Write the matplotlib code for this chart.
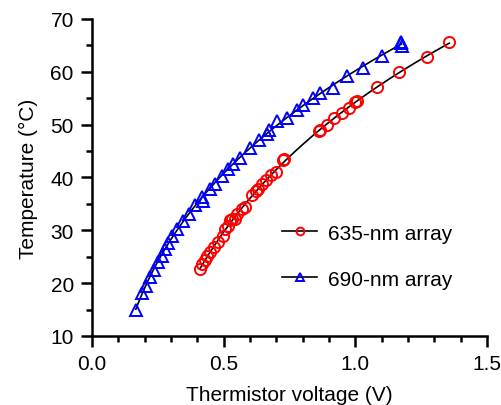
import numpy as np
import matplotlib
matplotlib.use("Agg")
import matplotlib.pyplot as plt
from matplotlib.ticker import MultipleLocator

plt.rcParams["font.family"] = ["Liberation Sans", "DejaVu Sans"]

# 635-nm array (red circles)
v_635 = [0.410, 0.420, 0.429, 0.438, 0.448, 0.463, 0.480, 0.496, 0.505, 0.518,
         0.524, 0.531, 0.543, 0.550, 0.569, 0.581, 0.607, 0.623, 0.632, 0.645,
         0.661, 0.682, 0.699, 0.727, 0.730, 0.863, 0.866, 0.891, 0.919, 0.948,
         0.976, 0.999, 1.005, 1.081, 1.167, 1.273, 1.357]
t_635 = [22.7, 23.7, 24.3, 25.1, 25.9, 26.8, 27.8, 28.9, 30.2, 30.8,
         31.9, 32.2, 32.2, 33.0, 34.0, 34.4, 36.6, 37.4, 37.9, 38.8,
         39.5, 40.4, 41.1, 43.3, 43.4, 48.8, 48.9, 50.0, 51.2, 52.1,
         53.2, 54.2, 54.5, 57.2, 60.0, 62.7, 65.6]

# 690-nm array (blue triangles)
v_690 = [0.167, 0.190, 0.205, 0.220, 0.235, 0.251, 0.266, 0.277, 0.289, 0.304,
         0.323, 0.346, 0.368, 0.391, 0.417, 0.422, 0.448, 0.467, 0.493, 0.518,
         0.537, 0.562, 0.600, 0.635, 0.666, 0.673, 0.704, 0.739, 0.777, 0.803,
         0.840, 0.866, 0.916, 0.967, 1.028, 1.100, 1.172, 1.176, 1.174]
t_690 = [14.9, 18.2, 19.5, 21.2, 22.5, 24.0, 25.2, 26.5, 27.6, 29.0,
         30.3, 31.8, 33.1, 34.7, 36.3, 35.5, 37.9, 38.7, 40.2, 41.6,
         42.6, 43.7, 45.6, 47.1, 48.3, 49.0, 50.6, 51.3, 52.8, 53.7,
         55.0, 55.9, 57.0, 59.1, 60.8, 63.0, 65.4, 64.8, 65.7]

labels = ["635-nm array", "690-nm array"]


# Smooth trend line through a series
def fit_line(v, t):
    coef = np.polyfit(np.log(v), t, 3)
    xs = np.linspace(min(v), max(v), 200)
    return xs, np.polyval(coef, np.log(xs))


fig = plt.figure(figsize=(5.02, 4.06), dpi=100)
ax = fig.add_axes([0.183, 0.170, 0.787, 0.781])

series = [(v_635, t_635, "o", "red"), (v_690, t_690, "^", "blue")]
for (v, t, m, c), lab in zip(series, labels):
    xs, ys = fit_line(v, t)
    ax.plot(xs, ys, color="black", lw=1.2, zorder=2)
    ax.plot(v, t, linestyle="none", marker=m, markersize=8, markerfacecolor="none",
            markeredgecolor=c, markeredgewidth=1.4, zorder=3)
    # legend proxy: black line with marker
    ax.plot([], [], color="black", lw=1.2, marker=m, markersize=8,
            markerfacecolor="none", markeredgecolor=c, markeredgewidth=1.4, label=lab)

ax.set_xlim(0, 1.5)
ax.set_ylim(10, 70)
ax.xaxis.set_major_locator(MultipleLocator(0.5))
ax.xaxis.set_minor_locator(MultipleLocator(0.1))
ax.yaxis.set_major_locator(MultipleLocator(10))
ax.yaxis.set_minor_locator(MultipleLocator(5))
ax.xaxis.set_major_formatter(plt.FormatStrFormatter("%.1f"))

for s in ["top", "right"]:
    ax.spines[s].set_visible(False)
for s in ["left", "bottom"]:
    ax.spines[s].set_linewidth(1.8)

ax.tick_params(which="major", direction="out", length=8, width=1.8, labelsize=15, pad=5)
ax.tick_params(which="minor", direction="out", length=4.5, width=1.8)

ax.set_xlabel("Thermistor voltage (V)", fontsize=15, labelpad=8.5)
ax.set_ylabel("Temperature (°C)", fontsize=15, labelpad=9)

ax.legend(loc="center left", bbox_to_anchor=(0.481, 0.252), frameon=False,
          fontsize=15, borderpad=0, borderaxespad=0, handlelength=1.7,
          handletextpad=0.5, labelspacing=1.3, markerscale=0.7)

fig.savefig("out.png", dpi=100)
